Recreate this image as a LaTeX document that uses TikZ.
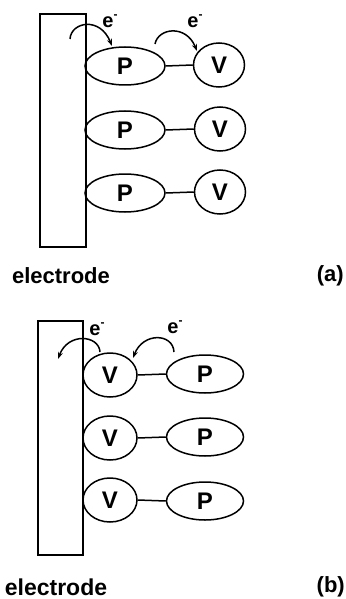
\documentclass[tikz,border=0pt]{standalone}
\usepackage{fontspec}
\setmainfont{Liberation Sans}
\usetikzlibrary{shapes.geometric,arrows.meta}
\tikzset{
  ln/.style={line width=1.5pt},
  electrodebox/.style={draw, line width=1.5pt},
  pnode/.style={draw, ellipse, line width=1.5pt, inner sep=0pt, font=\fontsize{24}{24}\selectfont\bfseries},
  vnode/.style={draw, ellipse, line width=1.5pt, inner sep=0pt, font=\fontsize{24}{24}\selectfont\bfseries},
  elabel/.style={font=\fontsize{20}{20}\selectfont\bfseries, inner sep=0pt},
  biglabel/.style={font=\fontsize{22}{22}\selectfont\bfseries, inner sep=0pt},
  hop/.style={line width=1.5pt, -{Stealth[length=7pt,width=5pt]}},
}
\newcommand{\emin}{e\raisebox{0.42em}{\fontsize{12}{12}\selectfont -}}
\begin{document}
\begin{tikzpicture}[x=1pt,y=-1pt]
\useasboundingbox (0,0) rectangle (345,599);
% ---------- panel (a) ----------
\draw[electrodebox] (40,14) rectangle (86,247);
\node[pnode, minimum width=80pt, minimum height=38pt] (pa1) at (125,66) {P};
\node[pnode, minimum width=80pt, minimum height=38pt] (pa2) at (125,130) {P};
\node[pnode, minimum width=80pt, minimum height=38pt] (pa3) at (125,193) {P};
\node[vnode, minimum width=51pt, minimum height=44pt] (va1) at (219,65) {V};
\node[vnode, minimum width=51pt, minimum height=44pt] (va2) at (220,129) {V};
\node[vnode, minimum width=51pt, minimum height=44pt] (va3) at (220,192) {V};
\draw[ln] (pa1.east) -- (va1.west);
\draw[ln] (pa2.east) -- (va2.west);
\draw[ln] (pa3.east) -- (va3.west);
\coordinate (as1) at (70,39);
\coordinate (at1) at (112,46);
\coordinate (as2) at (155,44);
\coordinate (at2) at (197,51);
\draw[hop] (as1) .. controls (71,22) and (100,16) .. (at1);
\draw[hop] (as2) .. controls (158,28) and (186,24) .. (at2);
\node[elabel] (ea1) at (110,21) {\emin};
\node[elabel] (ea2) at (195,21) {\emin};
\node[biglabel] (ela) at (61,276) {electrode};
\node[biglabel, anchor=east] (tga) at (344,276) {(a)};
% ---------- panel (b) ----------
\draw[electrodebox] (38,321) rectangle (83,555);
\node[vnode, minimum width=54pt, minimum height=44pt] (vb1) at (110,375) {V};
\node[vnode, minimum width=54pt, minimum height=44pt] (vb2) at (110,438) {V};
\node[vnode, minimum width=54pt, minimum height=44pt] (vb3) at (110,500) {V};
\node[pnode, minimum width=77pt, minimum height=38pt] (pb1) at (205,374) {P};
\node[pnode, minimum width=77pt, minimum height=38pt] (pb2) at (205,437) {P};
\node[pnode, minimum width=77pt, minimum height=38pt] (pb3) at (205,501) {P};
\draw[ln] (vb1.east) -- (pb1.west);
\draw[ln] (vb2.east) -- (pb2.west);
\draw[ln] (vb3.east) -- (pb3.west);
\coordinate (bs1) at (100,352);
\coordinate (bt1) at (58,359);
\coordinate (bs2) at (174,352);
\coordinate (bt2) at (133,358);
\draw[hop] (bs1) .. controls (99,335) and (68,332) .. (bt1);
\draw[hop] (bs2) .. controls (173,333) and (143,332) .. (bt2);
\node[elabel] (eb1) at (97,329) {\emin};
\node[elabel] (eb2) at (175,327) {\emin};
\node[biglabel, font=\fontsize{23}{23}\selectfont\bfseries] (elb) at (56,587) {electrode};
\node[biglabel, anchor=east] (tgb) at (345,587) {(b)};
\end{tikzpicture}
\end{document}
